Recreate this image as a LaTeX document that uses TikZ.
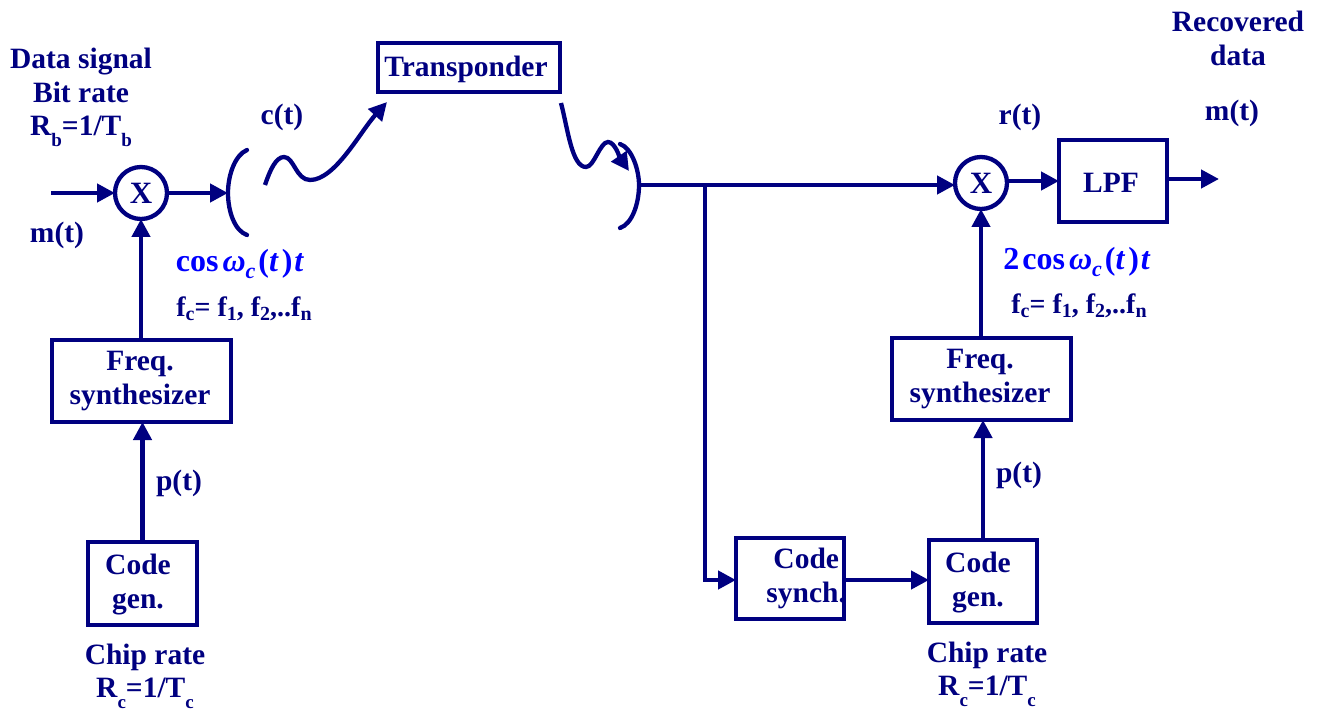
\documentclass[tikz,border=0pt]{standalone}
\usepackage{fontspec}
\setmainfont{Liberation Serif}
\usetikzlibrary{arrows.meta}
\definecolor{navy}{RGB}{0,0,128}
\definecolor{sigblue}{RGB}{0,0,255}
\newcommand{\lowsub}[1]{\raisebox{-11pt}{\fontsize{19}{19}\selectfont #1}}
\newcommand{\smallsub}[1]{\raisebox{-4pt}{\fontsize{20}{20}\selectfont #1}}
\newcommand{\carrier}{\textbf{cos}\hspace{4pt}\textbf{\textit{ω}}\raisebox{-7pt}{\fontsize{22}{22}\selectfont\textbf{\textit{c}}}\hspace{3pt}\textbf{(}\textbf{\textit{t}}\hspace{3pt}\textbf{)}\hspace{2pt}\textbf{\textit{t}}}
\tikzset{
  lbl/.style={inner sep=0pt,outer sep=0pt,text=navy,font=\fontsize{29.5}{34}\selectfont\bfseries,align=center},
  sublbl/.style={lbl,font=\fontsize{28}{30}\selectfont\bfseries},
  carr/.style={lbl,text=sigblue,font=\fontsize{32}{34}\selectfont\bfseries},
  blockbox/.style={draw=navy,line width=4.3pt,inner sep=0pt,outer sep=0pt},
  mixer/.style={circle,draw=navy,line width=4.3pt,fill=white,inner sep=0pt,outer sep=0pt,minimum size=52pt,text=navy,font=\fontsize{31}{34}\selectfont\bfseries},
  wire/.style={draw=navy,line width=4.3pt},
  arrow/.style={wire,-{Triangle[length=18pt,width=18pt]}},
  dish/.style={draw=navy,line width=4.3pt,line cap=round}
}
\begin{document}
\begin{tikzpicture}[x=1pt,y=-1pt]
\useasboundingbox (0,0) rectangle (1322,711);
% blocks
\node[blockbox,minimum width=182pt,minimum height=49pt] (trans) at (469,67.5) {};
\node[blockbox,minimum width=179pt,minimum height=82pt] (freqL) at (141.5,381) {};
\node[blockbox,minimum width=109pt,minimum height=83pt] (codeL) at (142.5,583.5) {};
\node[blockbox,minimum width=108pt,minimum height=82pt] (lpf) at (1113,181) {};
\node[blockbox,minimum width=179pt,minimum height=82pt] (freqR) at (981.5,379) {};
\node[blockbox,minimum width=108pt,minimum height=81pt] (synch) at (790,578.5) {};
\node[blockbox,minimum width=108pt,minimum height=83pt] (codeR) at (983,581.5) {};
\node[lbl] (transt) at (466,69) {Transponder};
\node[lbl] (freqLt) at (140,381) {Freq.\\synthesizer};
\node[lbl] (lpft) at (1111,183) {LPF};
\node[lbl] (freqRt) at (980,379) {Freq.\\synthesizer};
\node[lbl] (codeLt) at (138,584.5) {Code\\gen.};
\node[lbl,align=right,anchor=east] (syncht) at (846,578) {Code\hspace{7pt}\mbox{}\\synch.};
\node[lbl] (codeRt) at (978,582.5) {Code\\gen.};
\node[mixer] (mixL) at (141,193) {X};
\node[mixer] (mixR) at (981,183) {X};
% free points
\coordinate (inL) at (51,193);
\coordinate (dishL) at (228,193);
\coordinate (dishLa) at (247,150);
\coordinate (dishLb) at (247,235);
\coordinate (dishR) at (639,185);
\coordinate (dishRa) at (620,144);
\coordinate (dishRb) at (620,228);
\coordinate (branch) at (705,185);
\coordinate (corner) at (705,580);
\coordinate (outR) at (1219,179);
\coordinate (waveLs) at (265,185);
\coordinate (waveLp) at (284,157);
\coordinate (waveLt) at (310,180);
\coordinate (waveLe) at (387,102);
\coordinate (waveRs) at (561,103);
\coordinate (waveRt) at (586,167);
\coordinate (waveRp) at (608,142);
\coordinate (waveRe) at (629,171);
% wires
\draw[arrow] (inL) -- (mixL.west);
\draw[arrow] (mixL.east) -- (dishL);
\draw[arrow] (freqL.north -| mixL) -- (mixL.south);
\draw[arrow] (codeL.north) -- (codeL.north |- freqL.south);
\draw[arrow] (dishR) -- (mixR.west |- dishR);
\draw[arrow] (mixR.east |- lpf.west) -- (lpf.west);
\draw[arrow] (lpf.east |- outR) -- (outR);
\draw[arrow] (freqR.north -| mixR) -- (mixR.south);
\draw[arrow] (codeR.north) -- (codeR.north |- freqR.south);
\draw[arrow] (branch) -- (corner) -- (synch.west |- corner);
\draw[arrow] (synch.east |- corner) -- (codeR.west |- corner);
% dishes
\draw[dish] (dishLa) .. controls (235,155) and (228,175) .. (dishL) .. controls (228,212) and (235,231) .. (dishLb);
\draw[dish] (dishRa) .. controls (632,148) and (639,170) .. (dishR) .. controls (639,204) and (632,224) .. (dishRb);
% waves
\draw[arrow] (waveLs) .. controls (270,170) and (276,157) .. (waveLp) .. controls (294,157) and (296,180) .. (waveLt) .. controls (335,180) and (360,132) .. (waveLe);
\draw[arrow] (waveRs) .. controls (568,130) and (572,167) .. (waveRt) .. controls (594,167) and (600,142) .. (waveRp) .. controls (615,142) and (620,158) .. (waveRe);
% labels
\node[lbl] (t1) at (81,62) {Data signal};
\node[lbl] (t2) at (81,92) {Bit rate};
\node[lbl,anchor=base] (t3) at (81,136) {R\lowsub{b}=1/T\lowsub{b}};
\node[lbl] (t4) at (57,235) {m(t)};
\node[lbl] (t5) at (282,117) {c(t)};
\node[carr] (t6) at (240,264) {\carrier};
\node[sublbl] (t7) at (244,309) {f\smallsub{c}= f\smallsub{1}, f\smallsub{2},..f\smallsub{n}};
\node[lbl] (t8) at (179,483) {p(t)};
\node[lbl] (t9) at (145,657) {Chip rate};
\node[lbl,anchor=base] (t10) at (145,697) {R\lowsub{c}=1/T\lowsub{c}};
\node[lbl] (t11) at (1238,38.5) {Recovered\\data};
\node[lbl] (t12) at (1020,117) {r(t)};
\node[lbl] (t13) at (1232,113) {m(t)};
\node[carr] (t14) at (1077,262) {\textbf{2}\hspace{3pt}\carrier};
\node[sublbl] (t15) at (1079,306) {f\smallsub{c}= f\smallsub{1}, f\smallsub{2},..f\smallsub{n}};
\node[lbl] (t16) at (1019,475) {p(t)};
\node[lbl] (t17) at (987,655) {Chip rate};
\node[lbl,anchor=base] (t18) at (987,695) {R\lowsub{c}=1/T\lowsub{c}};
\end{tikzpicture}
\end{document}
